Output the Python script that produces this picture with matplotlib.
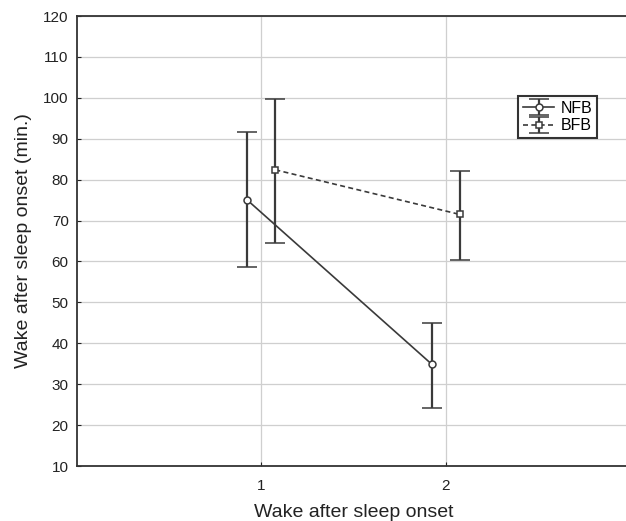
import numpy as np
import matplotlib
matplotlib.use("Agg")
import matplotlib.pyplot as plt

plt.rcParams['font.family'] = ['Liberation Sans', 'DejaVu Sans']

# time points and group values
sessions = [1, 2]
offset = 0.076
nfb_mean = [75.0, 34.9]
nfb_lo = [58.6, 24.3]
nfb_hi = [91.6, 44.9]
bfb_mean = [82.4, 71.5]
bfb_lo = [64.4, 60.3]
bfb_hi = [99.7, 82.2]

ytick_vals = np.arange(10, 121, 10)

fig = plt.figure(figsize=(6.26, 5.21), dpi=100)
ax = fig.add_axes([77/626, 55/521, 553/626, 450/521])

col = "#3a3a3a"
x_nfb = np.array(sessions) - offset
x_bfb = np.array(sessions) + offset

nfb_err = [np.array(nfb_mean) - np.array(nfb_lo), np.array(nfb_hi) - np.array(nfb_mean)]
bfb_err = [np.array(bfb_mean) - np.array(bfb_lo), np.array(bfb_hi) - np.array(bfb_mean)]

ax.errorbar(x_nfb, nfb_mean, yerr=nfb_err, color=col, lw=1.2, elinewidth=1.6,
            capsize=7, capthick=1.6, marker='o', ms=5, mfc='white', mec=col,
            mew=1.1, ls='-', label='NFB', zorder=3)
ax.errorbar(x_bfb, bfb_mean, yerr=bfb_err, color=col, lw=1.2, elinewidth=1.6,
            capsize=7, capthick=1.6, marker='s', ms=5, mfc='white', mec=col,
            mew=1.1, ls=(0, (3, 2)), label='BFB', zorder=3)

ax.set_xlim(0, 3)
ax.set_ylim(10, 120)
ax.set_xticks(sessions)
ax.set_yticks(ytick_vals)
ax.tick_params(direction='in', length=3, labelsize=11, colors='#222222')
ax.tick_params(axis='x', pad=9)
ax.tick_params(axis='y', pad=6)
ax.grid(True, color='#cfcfcf', lw=0.9)
ax.set_axisbelow(True)
for s in ax.spines.values():
    s.set_linewidth(1.3)
    s.set_color('#333333')

ax.set_xlabel("Wake after sleep onset", fontsize=14, labelpad=8, color='#222222')
ax.set_ylabel("Wake after sleep onset (min.)", fontsize=14, labelpad=8, color='#222222')

leg = ax.legend(loc='upper left', bbox_to_anchor=(0.797, 0.822), fontsize=11.5,
                frameon=True, fancybox=False, handlelength=2.0, handletextpad=0.4,
                borderpad=0.3, labelspacing=0.15, borderaxespad=0)
leg.get_frame().set_edgecolor('black')
leg.get_frame().set_linewidth(1.5)

fig.savefig("out.png", dpi=100)
